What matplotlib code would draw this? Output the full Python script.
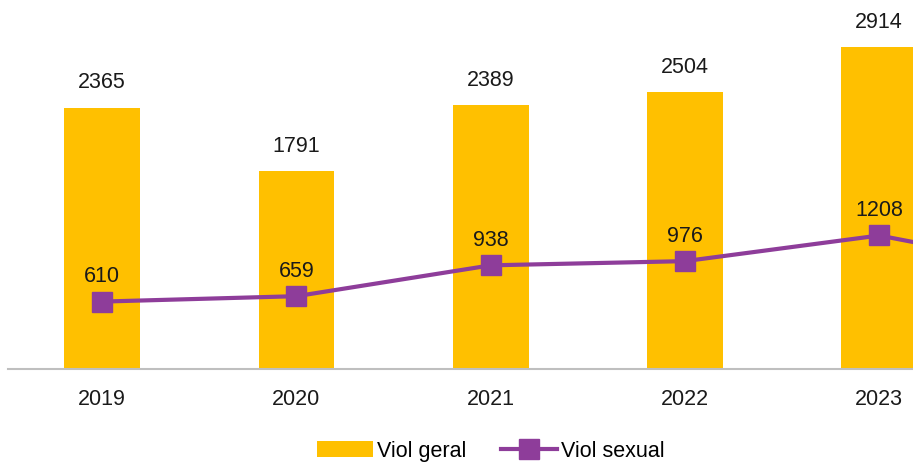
import numpy as np
import matplotlib.pyplot as plt

plt.rcParams['font.family'] = ['Liberation Sans', 'DejaVu Sans']

years = ["2019", "2020", "2021", "2022", "2023", "2024"]
viol_geral = [2365, 1791, 2389, 2504, 2914]
viol_sexual = [610, 659, 938, 976, 1208, 870]  # 2024 only partly visible, estimated

bar_color = "#FFC000"
line_color = "#8E3D9A"

fig = plt.figure(figsize=(9.13, 4.64), dpi=100)
ax = fig.add_axes([8 / 913, 94 / 464, 1 - 8 / 913, 370 / 464])

x_bar = np.arange(len(viol_geral))
x_line = np.arange(len(viol_sexual))

bars = ax.bar(x_bar, viol_geral, width=0.39, color=bar_color, label="Viol geral", zorder=2)
line, = ax.plot(x_line, viol_sexual, color=line_color, lw=3, marker="s", markersize=15,
                label="Viol sexual", zorder=3)

for xi, v in zip(x_bar, viol_geral):
    ax.annotate(str(v), (xi, v), xytext=(0, 11), textcoords="offset points",
                ha="center", va="bottom", fontsize=15.5, color="#1a1a1a",
                annotation_clip=True)
for xi, v in zip(x_line, viol_sexual):
    ax.annotate(str(v), (xi, v), xytext=(0, 11), textcoords="offset points",
                ha="center", va="bottom", fontsize=15.5, color="#1a1a1a", zorder=4,
                annotation_clip=True)

ax.set_xticks(x_line)
ax.set_xticklabels(years, fontsize=15.5, color="#1a1a1a")
ax.set_xlim(-0.485, 4.174)
ax.set_ylim(0, 3348)
ax.tick_params(axis="x", length=0, pad=14)
ax.set_yticks([])
for s in ["top", "right", "left"]:
    ax.spines[s].set_visible(False)
ax.spines["bottom"].set_color("#BFBFBF")
ax.spines["bottom"].set_linewidth(1.5)

fig.legend([bars, line], ["Viol geral", "Viol sexual"], loc="center",
           bbox_to_anchor=(491 / 913, 1 - 452 / 464), ncol=2,
           frameon=False, fontsize=15.5, handlelength=2.6, handletextpad=0.2,
           columnspacing=1.6, borderpad=0)

fig.savefig("out.png", dpi=100)
